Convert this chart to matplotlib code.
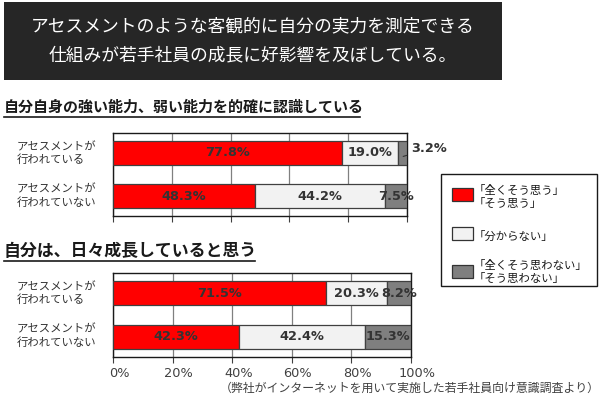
import matplotlib
matplotlib.use("Agg")
import matplotlib.pyplot as plt
import matplotlib.transforms as mtransforms
from matplotlib.patches import Rectangle
from matplotlib.lines import Line2D

plt.rcParams['font.family'] = ['Noto Sans CJK JP', 'DejaVu Sans']

title_lines = ["アセスメントのような客観的に自分の実力を測定できる",
               "仕組みが若手社員の成長に好影響を及ぼしている。"]
q1_title = "自分自身の強い能力、弱い能力を的確に認識している"
q2_title = "自分は、日々成長していると思う"
groups = ["アセスメントが\n行われている", "アセスメントが\n行われていない"]
legend_labels = ["「全くそう思う」\n「そう思う」", "「分からない」", "「全くそう思わない」\n「そう思わない」"]
q1_agree = [77.8, 48.3]
q1_unknown = [19.0, 44.2]
q1_disagree = [3.2, 7.5]
q2_agree = [71.5, 42.3]
q2_unknown = [20.3, 42.4]
q2_disagree = [8.2, 15.3]
xticks = [0, 20, 40, 60, 80, 100]
xticklabels = ["0%", "20%", "40%", "60%", "80%", "100%"]
source = "（弊社がインターネットを用いて実施した若手社員向け意識調査より）"

colors = ["#FF0000", "#F2F2F2", "#7F7F7F"]
W, H = 600, 398
fig = plt.figure(figsize=(6, 3.98), dpi=100)


def fx(x):
    return x / W


def fy(y):
    return 1 - y / H


# Title box
fig.patches.append(Rectangle((fx(4), fy(80)), fx(498), 78 / H, transform=fig.transFigure,
                             facecolor="#262626", edgecolor="none", zorder=0))
fig.text(fx(253), fy(26), title_lines[0], color="white", fontsize=12.8, ha="center", va="center")
fig.text(fx(253), fy(55), title_lines[1], color="white", fontsize=12.8, ha="center", va="center")


def subtitle(text, y, size, x_end):
    fig.text(fx(4), fy(y), text, fontsize=size, fontweight="bold", ha="left", va="center", color="#1a1a1a")
    fig.lines.append(Line2D([fx(4), fx(x_end)], [fy(y + 10), fy(y + 10)], transform=fig.transFigure,
                            color="#1a1a1a", lw=1.2))


subtitle(q1_title, 107, 10.8, 360)
subtitle(q2_title, 251, 12.2, 255)


def chart(left, top, right, bottom, agree, unknown, disagree, show_ticks):
    ax = fig.add_axes([fx(left), fy(bottom), fx(right - left), (bottom - top) / H])
    ypos = [0, 1]
    series = [agree, unknown, disagree]
    lefts = [0, 0]
    for vals, c in zip(series, colors):
        ax.barh(ypos, vals, left=lefts, height=0.56, color=c, edgecolor="#404040", lw=0.9, zorder=3)
        lefts = [l + v for l, v in zip(lefts, vals)]
    ax.set_xlim(0, 100)
    ax.set_ylim(1.465, -0.465)
    ax.set_xticks(xticks)
    ax.xaxis.grid(True, color="#808080", lw=0.9, zorder=0)
    ax.set_yticks([])
    for s in ax.spines.values():
        s.set_color("#1a1a1a")
        s.set_linewidth(1.0)
    ax.tick_params(axis="x", length=4, color="#404040")
    if show_ticks:
        ax.set_xticklabels(xticklabels, fontsize=9.3, color="#404040", family="DejaVu Sans")
        offset = mtransforms.ScaledTranslation(6 / 100, 0, fig.dpi_scale_trans)
        for lab in ax.get_xticklabels():
            lab.set_transform(lab.get_transform() + offset)
    else:
        ax.set_xticklabels([])
    # labels
    for i in range(2):
        start = 0
        for k, vals in enumerate(series):
            v = vals[i]
            center = start + v / 2
            txt = f"{v:.1f}%"
            if v < 5:
                ax.annotate(txt, xy=(start + v / 2 + 0.3, i + 0.08), xytext=(start + v + 1.3, i - 0.1),
                            fontsize=9.3, fontweight="bold", color="#333333", family="DejaVu Sans",
                            ha="left", va="center", annotation_clip=False,
                            arrowprops=dict(arrowstyle="-", color="#333333", lw=0.8,
                                            shrinkA=1, shrinkB=0))
            else:
                ax.text(center, i, txt, fontsize=9.3, fontweight="bold", color="#333333",
                        family="DejaVu Sans", ha="center", va="center", zorder=5, clip_on=False)
            start += v
    # group labels
    for i, g in enumerate(groups):
        yc = top + (20.5 if i == 0 else 63)
        fig.text(fx(17), fy(yc), g, fontsize=8.2, color="#333333", ha="left", va="center",
                 linespacing=1.25)
    return ax


chart(113, 133, 407, 216, q1_agree, q1_unknown, q1_disagree, False)
chart(113, 273, 411, 357, q2_agree, q2_unknown, q2_disagree, True)

# Legend box
fig.patches.append(Rectangle((fx(441), fy(286)), fx(156), 112 / H, transform=fig.transFigure,
                             facecolor="white", edgecolor="#1a1a1a", lw=1.0, zorder=2))
leg_y = [197, 236, 272]
patch_y = [194.5, 233.5, 271.5]
for lab, c, yc, py in zip(legend_labels, colors, leg_y, patch_y):
    fig.patches.append(Rectangle((fx(452), fy(py + 6.5)), fx(21), 13 / H, transform=fig.transFigure,
                                 facecolor=c, edgecolor="#333333", lw=0.9, zorder=3))
    fig.text(fx(474), fy(yc), lab, fontsize=8.2, color="#1a1a1a", ha="left", va="center",
             linespacing=1.2, zorder=4)

fig.text(fx(600), fy(388), source, fontsize=8.6, color="#404040", ha="right", va="center")

fig.savefig("out.png", dpi=100)
